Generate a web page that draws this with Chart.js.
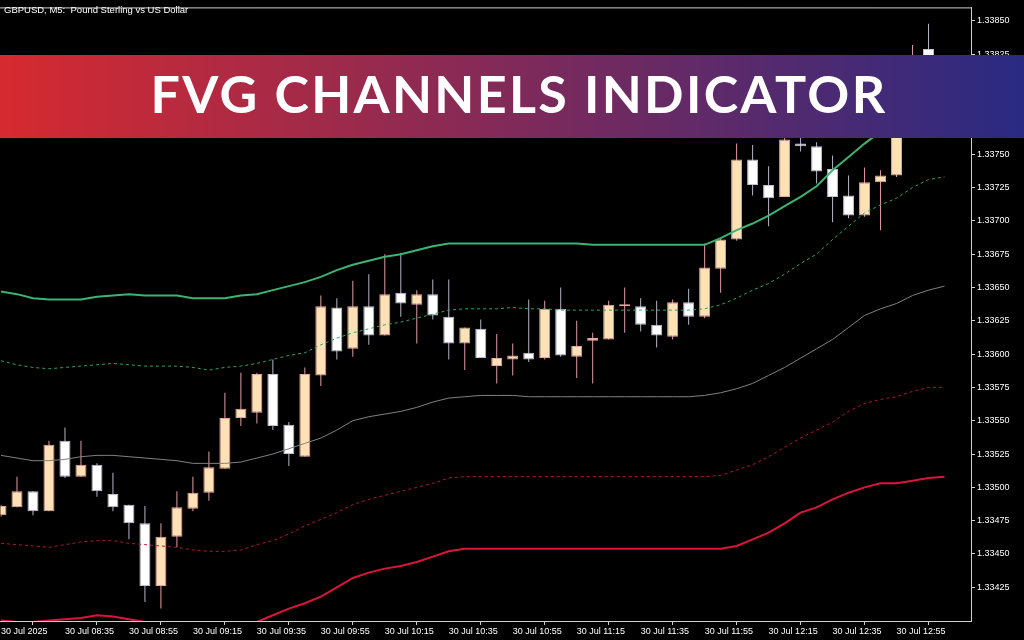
<!DOCTYPE html>
<html>
<head>
<meta charset="utf-8">
<script src="https://cdn.jsdelivr.net/npm/chart.js@4.4.1/dist/chart.umd.min.js"></script>
<style>
  html, body { margin: 0; padding: 0; background: #000; }
  #wrap { position: relative; width: 1024px; height: 640px; overflow: hidden; background: #000; }
  #c { position: absolute; left: 0; top: 0; }
  #title { position: absolute; left: 4px; top: 4px; font: 9.5px/11px "Liberation Sans", Arial, sans-serif; color: #fff; white-space: pre; }
  #banner { position: absolute; left: 0; top: 55px; width: 1024px; height: 83px;
    background: linear-gradient(to right, #d62a30, #2a2a82);
    display: flex; align-items: center; justify-content: center; }
  #banner span { font: 700 52px Lato, "Open Sans", sans-serif; color: #fff; letter-spacing: 2.3px;
    padding-left: 14px; transform: translateY(-4px); }
</style>
</head>
<body>
<div id="wrap">
  <canvas id="c" width="1024" height="640"></canvas>
  <div id="title">GBPUSD, M5:  Pound Sterling vs US Dollar</div>
  <div id="banner"><span>FVG CHANNELS INDICATOR</span></div>
</div>
<script>
// GBPUSD M5 candles, 30 Jul 08:15 .. 13:05
var opens = [1.33479,1.33485,1.33497,1.33482,1.33535,1.33508,1.33517,1.33495,1.33487,1.33473,
  1.33426,1.33463,1.33484,1.33496,1.33514,1.33552,1.33556,1.33585,1.33547,1.33523,
  1.33584,1.33635,1.33604,1.33636,1.33614,1.33646,1.33637,1.33645,1.33628,1.33608,
  1.33619,1.33591,1.33596,1.33601,1.33597,1.33634,1.33598,1.33610,1.33611,1.33636,
  1.33636,1.33622,1.33613,1.33639,1.33628,1.33664,1.33686,1.33746,1.33727,1.33718,
  1.33758,1.33756,1.33739,1.33719,1.33704,1.33729,1.33734,1.33780,1.33829];
var highs = [1.33487,1.33508,1.33497,1.33535,1.33545,1.33535,1.33518,1.33511,1.33487,1.33486,
  1.33473,1.33497,1.33508,1.33527,1.33571,1.33586,1.33586,1.33596,1.33549,1.33590,
  1.33644,1.33642,1.33655,1.33660,1.33675,1.33676,1.33648,1.33656,1.33656,1.33620,
  1.33626,1.33615,1.33608,1.33641,1.33640,1.33650,1.33625,1.33616,1.33640,1.33650,
  1.33642,1.33640,1.33641,1.33649,1.33683,1.33687,1.33758,1.33757,1.33741,1.33769,
  1.33769,1.33759,1.33749,1.33734,1.33740,1.33738,1.33787,1.33832,1.33848];
var lows = [1.33478,1.33485,1.33479,1.33482,1.33507,1.33508,1.33493,1.33482,1.33461,1.33414,
  1.33409,1.33455,1.33482,1.33490,1.33514,1.33546,1.33548,1.33543,1.33516,1.33523,
  1.33576,1.33596,1.33598,1.33607,1.33614,1.33628,1.33608,1.33626,1.33596,1.33588,
  1.33597,1.33578,1.33584,1.33594,1.33596,1.33598,1.33582,1.33578,1.33611,1.33616,
  1.33617,1.33605,1.33611,1.33622,1.33627,1.33646,1.33685,1.33719,1.33696,1.33718,
  1.33752,1.33728,1.33699,1.33702,1.33703,1.33693,1.33733,1.33776,1.33795];
var closes = [1.33486,1.33497,1.33482,1.33532,1.33508,1.33517,1.33497,1.33485,1.33473,1.33426,
  1.33463,1.33485,1.33496,1.33515,1.33552,1.33559,1.33585,1.33546,1.33525,1.33585,
  1.33636,1.33602,1.33636,1.33614,1.33645,1.33638,1.33645,1.33629,1.33608,1.33620,
  1.33597,1.33597,1.33599,1.33596,1.33634,1.33599,1.33606,1.33612,1.33637,1.33637,
  1.33622,1.33614,1.33639,1.33628,1.33665,1.33686,1.33746,1.33727,1.33717,1.33761,
  1.33756,1.33737,1.33718,1.33704,1.33729,1.33734,1.33780,1.33822,1.33802];

// FVG channel lines (one more value than candles, drawn one bar ahead)
var upperBand = [1.33647,1.33645,1.33642,1.33641,1.33641,1.33641,1.33643,1.33644,1.33645,1.33644,
  1.33644,1.33644,1.33642,1.33642,1.33642,1.33644,1.33645,1.33648,1.33651,1.33654,
  1.33658,1.33663,1.33667,1.33670,1.33673,1.33675,1.33678,1.33681,1.33683,1.33683,
  1.33683,1.33683,1.33683,1.33683,1.33683,1.33683,1.33683,1.33682,1.33682,1.33682,
  1.33682,1.33682,1.33682,1.33682,1.33682,1.33687,1.33693,1.33698,1.33704,1.33711,
  1.33718,1.33726,1.33738,1.33748,1.33758,1.33767,1.33775,1.33780,1.33783,1.33785];
var upperMid = [1.33595,1.33592,1.33590,1.33589,1.33590,1.33591,1.33592,1.33593,1.33592,1.33591,
  1.33591,1.33591,1.33590,1.33588,1.33590,1.33591,1.33593,1.33596,1.33599,1.33601,
  1.33607,1.33612,1.33616,1.33619,1.33622,1.33624,1.33627,1.33630,1.33633,1.33634,
  1.33634,1.33634,1.33635,1.33634,1.33634,1.33633,1.33633,1.33633,1.33633,1.33633,
  1.33633,1.33633,1.33633,1.33633,1.33634,1.33637,1.33642,1.33648,1.33653,1.33660,
  1.33668,1.33675,1.33686,1.33696,1.33706,1.33712,1.33717,1.33725,1.33731,1.33733];
var middle = [1.33524,1.33522,1.33520,1.33520,1.33521,1.33523,1.33524,1.33524,1.33523,1.33522,
  1.33521,1.33520,1.33518,1.33518,1.33518,1.33519,1.33522,1.33525,1.33529,1.33533,
  1.33537,1.33543,1.33550,1.33553,1.33555,1.33557,1.33560,1.33564,1.33567,1.33568,
  1.33569,1.33569,1.33569,1.33568,1.33568,1.33568,1.33568,1.33568,1.33568,1.33568,
  1.33568,1.33568,1.33568,1.33568,1.33569,1.33571,1.33574,1.33578,1.33584,1.33590,
  1.33597,1.33604,1.33611,1.33620,1.33629,1.33634,1.33638,1.33644,1.33648,1.33651];
var lowerMid = [1.33458,1.33457,1.33456,1.33455,1.33457,1.33459,1.33460,1.33460,1.33458,1.33457,
  1.33456,1.33455,1.33453,1.33452,1.33452,1.33453,1.33457,1.33460,1.33465,1.33471,
  1.33476,1.33481,1.33487,1.33491,1.33494,1.33497,1.33500,1.33503,1.33507,1.33508,
  1.33508,1.33508,1.33508,1.33508,1.33508,1.33508,1.33508,1.33508,1.33508,1.33508,
  1.33508,1.33508,1.33508,1.33508,1.33508,1.33509,1.33513,1.33517,1.33523,1.33530,
  1.33537,1.33543,1.33549,1.33557,1.33563,1.33566,1.33568,1.33572,1.33575,1.33575];
var lowerBand = [1.33400,1.33399,1.33399,1.33400,1.33401,1.33402,1.33404,1.33403,1.33401,1.33399,
  1.33398,1.33397,1.33395,1.33395,1.33395,1.33396,1.33399,1.33404,1.33409,1.33413,
  1.33418,1.33425,1.33432,1.33436,1.33439,1.33441,1.33444,1.33448,1.33452,1.33454,
  1.33454,1.33454,1.33454,1.33454,1.33454,1.33454,1.33454,1.33454,1.33454,1.33454,
  1.33454,1.33454,1.33454,1.33454,1.33454,1.33454,1.33456,1.33461,1.33466,1.33473,
  1.33481,1.33485,1.33491,1.33496,1.33500,1.33503,1.33503,1.33505,1.33507,1.33508];

// bottom axis: one label every 4 bars
var xTickBars = [0,4,8,12,16,20,24,28,32,36,40,44,48,52,56];
var xTickLabels = ["30 Jul 2025","30 Jul 08:35","30 Jul 08:55","30 Jul 09:15","30 Jul 09:35",
  "30 Jul 09:55","30 Jul 10:15","30 Jul 10:35","30 Jul 10:55","30 Jul 11:15","30 Jul 11:35",
  "30 Jul 11:55","30 Jul 12:15","30 Jul 12:35","30 Jul 12:55"];
var yTicks = [1.33425,1.33450,1.33475,1.33500,1.33525,1.33550,1.33575,1.33600,1.33625,
  1.33650,1.33675,1.33700,1.33725,1.33750,1.33775,1.33800,1.33825,1.33850];

var UP_FILL = "#ffe1b6", UP_EDGE = "#eea3aa", UP_WICK = "#e39ca4";
var DN_FILL = "#ffffff", DN_EDGE = "#bfbfd6", DN_WICK = "#b6b6c8";
var AXIS = "#cfcfcf";

var bodies = [], wicks = [], bodyFill = [], bodyEdge = [], wickClr = [];
for (var i = 0; i < opens.length; i++) {
  var up = closes[i] > opens[i];
  bodies.push({x: i, y: [opens[i], closes[i]]});
  wicks.push({x: i, y: [lows[i], highs[i]]});
  bodyFill.push(up ? UP_FILL : DN_FILL);
  bodyEdge.push(up ? UP_EDGE : DN_EDGE);
  wickClr.push(up ? UP_WICK : DN_WICK);
}

function series(vals) {
  return vals.map(function(v, i) { return {x: i, y: v}; });
}

function line(vals, clr, w, dash) {
  return {
    type: "line", data: series(vals), borderColor: clr, borderWidth: w,
    borderDash: dash || [], pointRadius: 0, tension: 0, fill: false, order: 0
  };
}

var frame = {
  id: "frame",
  afterDraw: function(chart) {
    var a = chart.chartArea, ctx = chart.ctx;
    ctx.save();
    ctx.strokeStyle = AXIS;
    ctx.lineWidth = 1;
    ctx.beginPath();
    ctx.moveTo(0, a.top + 0.5);
    ctx.lineTo(a.right + 1, a.top + 0.5);
    ctx.stroke();
    ctx.restore();
  }
};

var tickFont = {family: "Liberation Sans", size: 9};

new Chart(document.getElementById("c"), {
  type: "bar",
  data: {
    datasets: [
      line(upperBand, "#3cb371", 2),
      line(upperMid, "#2fa463", 1, [3, 3]),
      line(middle, "#808080", 1),
      line(lowerMid, "#b01838", 1, [3, 3]),
      line(lowerBand, "#dc143c", 2),
      { data: bodies, backgroundColor: bodyFill, borderColor: bodyEdge, borderWidth: 1,
        borderSkipped: false, maxBarThickness: 11, minBarLength: 2, grouped: false, order: 1 },
      { data: wicks, backgroundColor: wickClr, borderWidth: 0,
        maxBarThickness: 1, grouped: false, order: 2 }
    ]
  },
  options: {
    responsive: false,
    animation: false,
    devicePixelRatio: 1,
    layout: {padding: {top: 2, left: 0, right: 0, bottom: 0}},
    plugins: {legend: {display: false}, tooltip: {enabled: false}},
    scales: {
      x: {
        type: "linear", min: -0.03125, max: 60.65625, offset: false,
        afterFit: function(s) { s.height = 19; },
        afterBuildTicks: function(s) { s.ticks = xTickBars.map(function(v) { return {value: v}; }); },
        border: {display: true, color: AXIS},
        grid: {drawOnChartArea: false, drawTicks: true, tickLength: 4, color: AXIS},
        ticks: {
          color: "#ffffff", font: tickFont, align: "start", padding: 1,
          autoSkip: false, maxRotation: 0,
          callback: function(v, idx) { return xTickLabels[idx]; }
        }
      },
      y: {
        position: "right", min: 1.333997, max: 1.338602,
        afterFit: function(s) { s.width = 53; },
        afterBuildTicks: function(s) { s.ticks = yTicks.map(function(v) { return {value: v}; }); },
        border: {display: true, color: AXIS},
        grid: {drawOnChartArea: false, drawTicks: true, tickLength: 4, color: AXIS},
        ticks: {
          color: "#ffffff", font: tickFont, padding: 2,
          callback: function(v) { return v.toFixed(5); }
        }
      }
    }
  },
  plugins: [frame]
});
</script>
</body>
</html>
